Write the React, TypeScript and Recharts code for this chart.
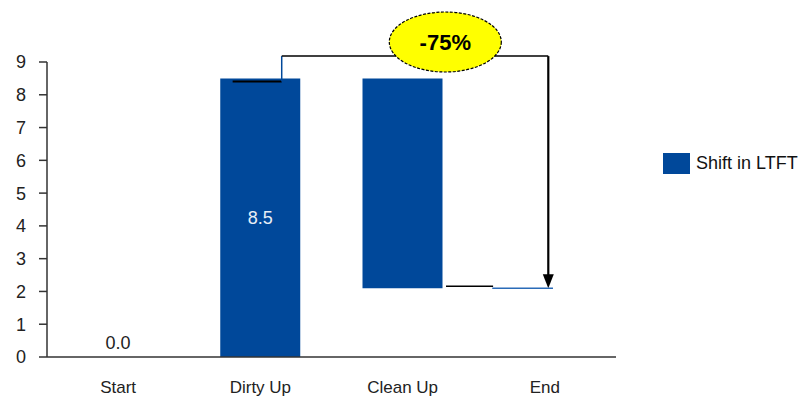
import React from "react"
import {
  ComposedChart,
  Bar,
  XAxis,
  YAxis,
  Legend,
  LabelList,
  ReferenceLine,
  ReferenceDot,
} from "recharts"

// waterfall steps
const categories = ["Start", "Dirty Up", "Clean Up", "End"]
const barLow = [0, 0, 2.1, 2.1]
const barHigh = [0, 8.5, 8.5, 2.1]
const valueLabels = ["0.0", "8.5", "", ""]
const changeLabel = "-75%"
const yTicks = [0, 1, 2, 3, 4, 5, 6, 7, 8, 9]

const BLUE = "#00489a"
const FONT = "'Liberation Sans', Arial, sans-serif"

const data = categories.map((name, i) => ({
  name,
  base: barLow[i],
  shift: barHigh[i] - barLow[i],
  label: valueLabels[i],
}))

const yMax = yTicks[yTicks.length - 1]
const bracketLevel = 9.18
const bubbleLevel = 9.61

// The overlay is drawn from a reference segment running (first category, 0) -> (last category, yMax),
// so its end points give the band width and the value scale in pixels.
const Annotations = (p: any) => {
  const band = (p.x2 - p.x1) / (categories.length - 1)
  const X = (name: string, off = 0) => p.x1 + (categories.indexOf(name) + off) * band
  const Y = (v: number) => p.y1 + ((p.y2 - p.y1) * v) / yMax

  const bracketLeft = X("Dirty Up", 0.15)
  const arrowX = X("End", 0.024)
  const top = Y(bracketLevel)
  const endY = Y(barHigh[3])

  return (
    <g>
      {/* connector across the top of Dirty Up */}
      <line x1={X("Dirty Up", -0.195)} x2={bracketLeft} y1={Y(barHigh[1]) + 3} y2={Y(barHigh[1]) + 3} stroke="#000" strokeWidth={2} />
      {/* bracket from Dirty Up down to End */}
      <line x1={bracketLeft} x2={bracketLeft} y1={Y(barHigh[1]) + 3} y2={top} stroke={BLUE} strokeWidth={1.5} />
      <line x1={bracketLeft} x2={arrowX} y1={top} y2={top} stroke="#000" strokeWidth={1.5} />
      <line x1={arrowX} x2={arrowX} y1={top} y2={endY - 12} stroke="#000" strokeWidth={2.2} />
      <polygon points={`${arrowX - 5.5},${endY - 14} ${arrowX + 5.5},${endY - 14} ${arrowX},${endY}`} fill="#000" />
      {/* connector from Clean Up to End, then the End level */}
      <line x1={X("Clean Up", 0.305)} x2={X("End", -0.364)} y1={Y(barLow[2]) - 2} y2={Y(barLow[2]) - 2} stroke="#000" strokeWidth={1.5} />
      <line x1={X("End", -0.37)} x2={X("End", 0.057)} y1={endY} y2={endY} stroke="#2a6bb8" strokeWidth={1.5} />
      {/* change bubble */}
      <ellipse cx={X("Clean Up", 0.3)} cy={Y(bubbleLevel)} rx={56} ry={30} fill="#ffff00" stroke="#000" strokeWidth={1.2} strokeDasharray="3 1.5" />
      <text x={X("Clean Up", 0.3)} y={Y(bubbleLevel)} textAnchor="middle" dominantBaseline="central" fontFamily={FONT} fontWeight="bold" fontSize={22} fill="#000">
        {changeLabel}
      </text>
    </g>
  )
}

// label sitting just above a zero-height bar
const StartLabel = (p: any) => (
  <text x={p.cx} y={p.cy - 14} textAnchor="middle" dominantBaseline="central" fontFamily={FONT} fontSize={18} fill="#222">
    {valueLabels[0]}
  </text>
)

const InsideLabel = (p: any) => {
  const { x, y, width, height, value } = p
  if (!value) return null
  return (
    <text x={x + width / 2} y={y + height / 2} textAnchor="middle" dominantBaseline="central" fontFamily={FONT} fontSize={18} fill="#e8eef6">
      {value}
    </text>
  )
}

const LegendBox = () => (
  <div style={{ display: "flex", alignItems: "center", fontFamily: FONT, fontSize: 18, color: "#111", whiteSpace: "nowrap" }}>
    <span style={{ display: "inline-block", width: 27, height: 21, background: BLUE, marginRight: 6 }} />
    Shift in LTFT
  </div>
)

export default function App() {
  return (
    <div style={{ position: "absolute", left: 0, top: 0, background: "#fff" }}>
      <ComposedChart width={804} height={400} data={data} margin={{ top: 62, right: 188, bottom: 13, left: 7 }}>
        <XAxis
          dataKey="name"
          axisLine={{ stroke: "#333", strokeWidth: 1.5 }}
          tickLine={false}
          tickSize={0}
          tickMargin={24}
          height={30}
          interval={0}
          tick={{ fontFamily: FONT, fontSize: 17, fill: "#222" }}
        />
        <YAxis
          domain={[0, yMax]}
          ticks={yTicks}
          width={40}
          axisLine={{ stroke: "#333", strokeWidth: 1.5 }}
          tickLine={{ stroke: "#333", strokeWidth: 1.5 }}
          tickSize={8}
          tickMargin={13}
          tick={{ fontFamily: FONT, fontSize: 18, fill: "#222" }}
        />
        <Legend
          layout="vertical"
          align="center"
          verticalAlign="middle"
          content={LegendBox}
          wrapperStyle={{ left: 663, top: 153, width: "auto" }}
        />
        <Bar dataKey="base" stackId="w" fill="transparent" barSize={80} isAnimationActive={false} legendType="none" />
        <Bar dataKey="shift" stackId="w" fill={BLUE} barSize={80} name="Shift in LTFT" isAnimationActive={false}>
          <LabelList dataKey="label" content={InsideLabel} />
        </Bar>

        <ReferenceDot x={categories[0]} y={barHigh[0]} r={0} ifOverflow="visible" shape={StartLabel} />
        <ReferenceLine
          ifOverflow="visible"
          segment={[
            { x: categories[0], y: 0 },
            { x: categories[categories.length - 1], y: yMax },
          ]}
          shape={Annotations}
        />
      </ComposedChart>
    </div>
  )
}
